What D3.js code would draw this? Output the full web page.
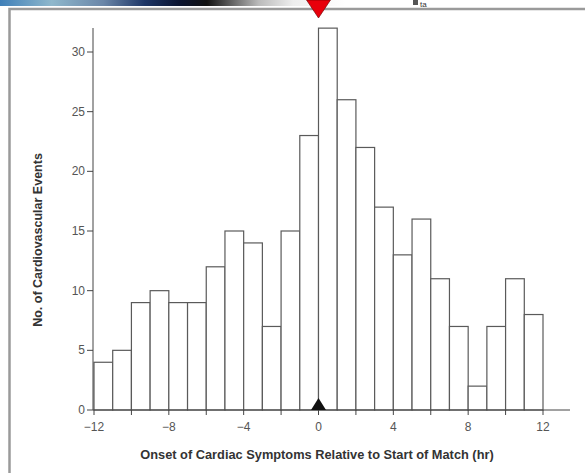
<!DOCTYPE html>
<html><head><meta charset="utf-8">
<script src="https://cdn.jsdelivr.net/npm/d3@7/dist/d3.min.js"></script>
<style>html,body{margin:0;padding:0;background:#fff;overflow:hidden}</style>
</head><body>
<svg id="c" width="585" height="473"></svg>
<script>
const binStarts = [-12,-11,-10,-9,-8,-7,-6,-5,-4,-3,-2,-1,0,1,2,3,4,5,6,7,8,9,10,11];
const counts    = [4,5,9,10,9,9,12,15,14,7,15,23,32,26,22,17,13,16,11,7,2,7,11,8];
const yTicks = [0,5,10,15,20,25,30];
const xLabelTicks = [-12,-8,-4,0,4,8,12];
const xMinorTicks = [-12,-10,-8,-6,-4,-2,0,2,4,6,8,10,12];
const markerHour = [0];

const svg = d3.select("#c");
const x = d3.scaleLinear().domain([-12,12]).range([94,543]);
const y = d3.scaleLinear().domain([0,30]).range([410,52]);

// top header strip
const defs = svg.append("defs");
const g1 = defs.append("linearGradient").attr("id","hdr").attr("x1","0").attr("x2","1");
[[0,"#3f7fb8"],[0.15,"#8fb8cc"],[0.3,"#6a86a8"],[0.42,"#1d3566"],[0.52,"#0b1430"],[0.6,"#111"],[0.75,"#bbb"],[0.85,"#eee"],[1,"#fff"]]
  .forEach(s=>g1.append("stop").attr("offset",s[0]).attr("stop-color",s[1]));
svg.append("rect").attr("x",0).attr("y",0).attr("width",345).attr("height",6).attr("fill","url(#hdr)");
svg.append("rect").attr("x",413).attr("y",0).attr("width",5).attr("height",5).attr("fill","#555");
svg.append("text").attr("x",420).attr("y",7).attr("font-family","Liberation Sans").attr("font-size",8).attr("fill","#333").text("ta");

// frame
svg.append("rect").attr("x",9.5).attr("y",9).attr("width",590).attr("height",480)
  .attr("fill","#fff").attr("stroke","#9a9a9a").attr("stroke-width",2.5);

// red marker
svg.append("path").attr("d",`M${x(0)-12},0 L${x(0)+12},0 L${x(0)},18 Z`).attr("fill","#e8000b").attr("stroke","#600").attr("stroke-width",0.6);

// bars
svg.append("g").selectAll("rect").data(binStarts).join("rect")
  .attr("x",(d)=>x(d)).attr("width",x(1)-x(0))
  .attr("y",(d,i)=>y(counts[i])).attr("height",(d,i)=>y(0)-y(counts[i]))
  .attr("fill","#fff").attr("stroke","#5a5a5a").attr("stroke-width",1.2);

// axes
const axG = svg.append("g").attr("font-family","Liberation Sans Narrow, Liberation Sans").attr("font-size",12).attr("fill","#555");
axG.append("line").attr("x1",93).attr("x2",93).attr("y1",28).attr("y2",y(0)).attr("stroke","#444").attr("stroke-width",1);
axG.append("line").attr("x1",93).attr("x2",570).attr("y1",y(0)).attr("y2",y(0)).attr("stroke","#444").attr("stroke-width",1);
axG.selectAll(".yt").data(yTicks).join("line").attr("x1",87).attr("x2",93)
  .attr("y1",d=>y(d)).attr("y2",d=>y(d)).attr("stroke","#444");
axG.selectAll(".yl").data(yTicks).join("text").attr("x",85).attr("y",d=>y(d)+4)
  .attr("text-anchor","end").attr("fill","#555").text(d=>d);
axG.selectAll(".xt").data(xMinorTicks).join("line").attr("x1",d=>x(d)).attr("x2",d=>x(d))
  .attr("y1",y(0)).attr("y2",y(0)+5).attr("stroke","#444");
axG.selectAll(".xl").data(xLabelTicks).join("text").attr("x",d=>x(d)).attr("y",y(0)+21)
  .attr("text-anchor","middle").attr("fill","#555").text(d=>d<0?"\u2212"+Math.abs(d):d);

// black triangle at match start
svg.selectAll(".tri").data(markerHour).join("path")
  .attr("d",d=>`M${x(d)-7.5},${y(0)} L${x(d)+7.5},${y(0)} L${x(d)},${y(0)-12} Z`).attr("fill","#111");

// axis titles
svg.append("text").attr("x",317).attr("y",459).attr("text-anchor","middle")
  .attr("font-family","Liberation Sans").attr("font-weight","bold").attr("font-size",12.8).attr("fill","#333")
  .text("Onset of Cardiac Symptoms Relative to Start of Match (hr)");
svg.append("text").attr("transform","translate(42,240) rotate(-90)").attr("text-anchor","middle")
  .attr("font-family","Liberation Sans").attr("font-weight","bold").attr("font-size",12.5).attr("fill","#333")
  .text("No. of Cardiovascular Events");
</script>
</body></html>
